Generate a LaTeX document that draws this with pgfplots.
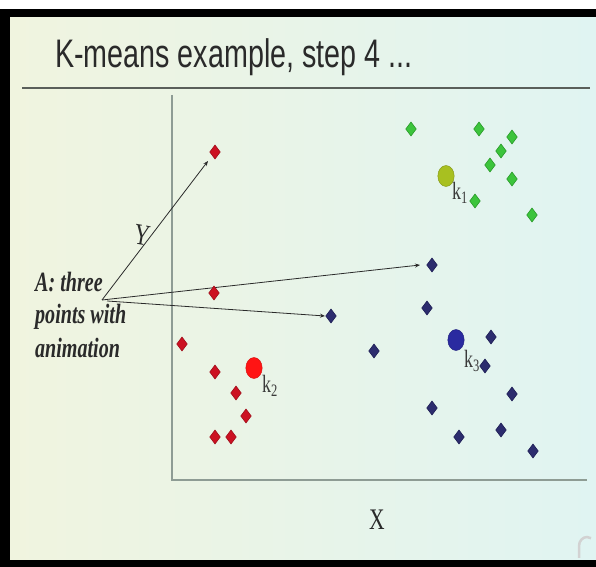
\documentclass[border=0pt]{standalone}
\usepackage{pgfplots}
\pgfplotsset{compat=1.18}
\usepackage{fontspec}
\setmainfont{Liberation Serif}
\newfontfamily\titlefont{Liberation Sans}
\usepackage{graphicx}
\usetikzlibrary{arrows.meta}

\definecolor{bgleft}{HTML}{F0F4DF}
\definecolor{bgright}{HTML}{E0F4F2}
\definecolor{rulegray}{HTML}{5A5F5A}
\definecolor{axisgray}{HTML}{8E9C94}
\definecolor{redpt}{HTML}{CC1122}
\definecolor{redptd}{HTML}{A0101C}
\definecolor{greenpt}{HTML}{3CC43C}
\definecolor{greenptd}{HTML}{2A9A2A}
\definecolor{bluept}{HTML}{2C2C6E}
\definecolor{blueptd}{HTML}{1E1E55}
\definecolor{kred}{HTML}{FF1414}
\definecolor{kgreen}{HTML}{A8C020}
\definecolor{kblue}{HTML}{2A2AA0}
\definecolor{txt}{HTML}{2A2A2A}
\definecolor{ktxt}{HTML}{3A3A3A}

\newcommand{\sq}[1]{\scalebox{0.72}[1]{#1}}

\begin{document}
\begin{tikzpicture}
\begin{axis}[
  scale only axis, width=596bp, height=567bp,
  xmin=-17.2, xmax=42.4, ymin=-8.7, ymax=48.0,
  hide axis, clip=false,
]
% page, slide background and frame
\fill[white] (axis cs:-17.2,-8.7) rectangle (axis cs:42.4,48.0);
\shade[left color=bgleft, right color=bgright] (axis cs:-16.2,-8.0) rectangle (axis cs:42.4,46.3);
\fill[black] (axis cs:-17.2,46.3) rectangle (axis cs:42.4,47.1);
\fill[black] (axis cs:-17.2,-8.7) rectangle (axis cs:-16.2,47.1);
\fill[black] (axis cs:-17.2,-8.7) rectangle (axis cs:42.4,-8.0);

% title and rule
\node[anchor=base west, inner sep=0pt, text=txt] at (axis cs:-11.7,41.2)
  {\sq{\titlefont\fontsize{40}{45}\selectfont K-means example, step 4 ...}};
\draw[rulegray, line width=1.6bp] (axis cs:-15.0,39.2) -- (axis cs:41.8,39.2);

% slide axes
\draw[axisgray, line width=1.6bp] (axis cs:0,38.5) -- (axis cs:0,0) -- (axis cs:41.5,0);
\node[text=txt, inner sep=0pt] at (axis cs:20.5,-4.0)
  {\sq{\fontsize{30}{30}\selectfont X}};
\node[text=txt, inner sep=0pt, rotate=-10] at (axis cs:-3.0,24.5)
  {\sq{\fontsize{30}{30}\selectfont Y}};

% cluster 2 (red)
\addplot[only marks, mark=diamond*, mark size=7pt,
  mark options={fill=redpt, draw=redptd, line width=0.6pt}] coordinates {
  (4.3,32.8) (4.2,18.7) (1.0,13.6) (4.3,10.8) (6.4,8.7) (7.4,6.4) (4.3,4.3) (5.9,4.3)
};
% cluster 1 (green)
\addplot[only marks, mark=diamond*, mark size=7pt,
  mark options={fill=greenpt, draw=greenptd, line width=0.6pt}] coordinates {
  (23.9,35.1) (30.7,35.1) (34.0,34.3) (32.9,32.9) (31.8,31.5) (34.0,30.1) (30.3,27.9) (36.0,26.5)
};
% cluster 3 (blue)
\addplot[only marks, mark=diamond*, mark size=7pt,
  mark options={fill=bluept, draw=blueptd, line width=0.6pt}] coordinates {
  (26.0,21.5) (15.9,16.4) (25.5,17.2) (31.9,14.3) (20.2,12.9) (31.3,11.4)
  (34.0,8.6) (26.0,7.2) (32.9,5.0) (28.7,4.3) (36.1,2.9)
};

% centroids
\addplot[only marks, mark=*, mark size=10.5pt,
  mark options={xscale=0.78, fill=kgreen, draw=kgreen!80!black, line width=0.5pt}] coordinates {(27.4,30.4)};
\addplot[only marks, mark=*, mark size=10.5pt,
  mark options={xscale=0.78, fill=kred, draw=kred!85!black, line width=0.5pt}] coordinates {(8.2,11.2)};
\addplot[only marks, mark=*, mark size=10.5pt,
  mark options={xscale=0.78, fill=kblue, draw=kblue!80!black, line width=0.5pt}] coordinates {(28.4,14.0)};

\node[anchor=base west, inner sep=0pt, text=ktxt] at (axis cs:28.0,28.0)
  {\sq{\fontsize{25}{25}\selectfont k\textsubscript{1}}};
\node[anchor=base west, inner sep=0pt, text=ktxt] at (axis cs:9.0,8.7)
  {\sq{\fontsize{25}{25}\selectfont k\textsubscript{2}}};
\node[anchor=base west, inner sep=0pt, text=ktxt] at (axis cs:29.2,11.2)
  {\sq{\fontsize{25}{25}\selectfont k\textsubscript{3}}};

% annotation with its three arrows
\draw[-{Stealth[length=5bp,width=4bp]}, txt, line width=0.8bp] (axis cs:-7.0,18.0) -- (axis cs:3.6,31.9);
\draw[-{Stealth[length=5bp,width=4bp]}, txt, line width=0.8bp] (axis cs:-7.0,18.0) -- (axis cs:24.8,21.5);
\draw[-{Stealth[length=5bp,width=4bp]}, txt, line width=0.8bp] (axis cs:-6.5,17.9) -- (axis cs:15.3,16.4);

\node[anchor=base west, inner sep=0pt, text=txt] at (axis cs:-13.7,18.8)
  {\sq{\fontsize{28}{28}\selectfont\bfseries\itshape A: three}};
\node[anchor=base west, inner sep=0pt, text=txt] at (axis cs:-13.7,15.6)
  {\sq{\fontsize{28}{28}\selectfont\bfseries\itshape points with}};
\node[anchor=base west, inner sep=0pt, text=txt] at (axis cs:-13.7,12.2)
  {\sq{\fontsize{28}{28}\selectfont\bfseries\itshape animation}};

% small corner icon
\draw[gray!35, line width=2.5bp] (axis cs:40.7,-7.8) -- (axis cs:40.7,-6.6) arc[start angle=180, end angle=60, x radius=0.8, y radius=0.9];
\end{axis}
\end{tikzpicture}
\end{document}
